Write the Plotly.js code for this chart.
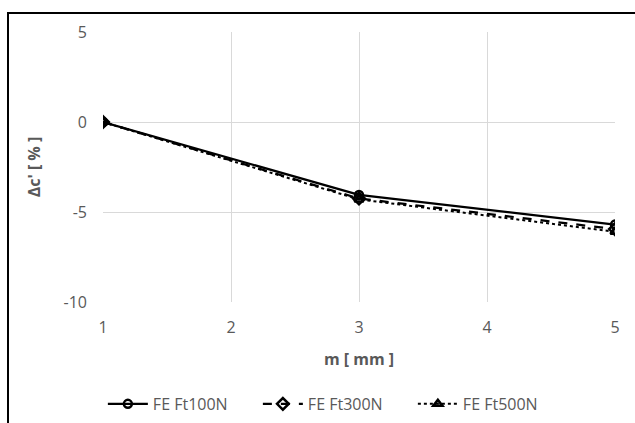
<!DOCTYPE html>
<html><head><meta charset="utf-8">
<script src="https://cdn.plot.ly/plotly-3.0.1.min.js"></script>
<style>
html,body{margin:0;padding:0;background:#fff;}
#wrap{position:relative;width:635px;height:423px;overflow:hidden;}
#chart{position:absolute;left:0;top:0;width:635px;height:423px;}
#frame{position:absolute;left:7px;top:12px;width:700px;height:500px;border-left:2px solid #000;border-top:2px solid #000;pointer-events:none;}
</style></head>
<body>
<div id="wrap"><div id="chart"></div><div id="frame"></div></div>
<script>
const m = [1, 3, 5];
const ft100 = [0, -4.05, -5.7];
const ft300 = [0, -4.25, -5.95];
const ft500 = [0, -4.3, -6.1];
const seriesNames = ["FE Ft100N", "FE Ft300N", "FE Ft500N"];
const xTicks = [1, 2, 3, 4, 5];
const yTicks = [5, 0, -5, -10];

const font = "Open Sans, Noto Sans, sans-serif";
const traces = [
  {x: m, y: ft100, name: seriesNames[0], mode: "lines+markers",
   line: {color: "#000", width: 2.25, dash: "solid"},
   marker: {symbol: "circle-open", size: 8, color: "#000", line: {width: 2.5, color: "#000"}}},
  {x: m, y: ft300, name: seriesNames[1], mode: "lines+markers",
   line: {color: "#000", width: 2.25, dash: "dash"},
   marker: {symbol: "diamond-open", size: 9, color: "#000", line: {width: 2.5, color: "#000"}}},
  {x: m, y: ft500, name: seriesNames[2], mode: "lines+markers",
   line: {color: "#000", width: 2, dash: "dot"},
   marker: {symbol: "triangle-up-open", size: 8, color: "#000", line: {width: 2.5, color: "#000"}}}
];
const layout = {
  width: 635, height: 423,
  margin: {l: 103, r: 20, t: 32, b: 121},
  paper_bgcolor: "#fff", plot_bgcolor: "#fff",
  font: {family: font, color: "#595959", size: 15},
  showlegend: true,
  legend: {orientation: "h", x: 0.162, xanchor: "left", xref: "container",
           y: 0.045, yanchor: "middle", yref: "container",
           entrywidth: 100, entrywidthmode: "pixels",
           font: {size: 16, color: "#595959"}, itemwidth: 40, tracegroupgap: 0},
  xaxis: {range: [1, 5], tickvals: xTicks, ticktext: xTicks.map(String), automargin: false,
          showgrid: true, gridcolor: "#d9d9d9", gridwidth: 1, zeroline: false,
          showline: false, ticks: "", ticklabelstandoff: 14, tickfont: {size: 16, color: "#595959"},
          title: {text: "<b>m [ mm ]</b>", font: {size: 16, color: "#595959"}, standoff: 16}},
  yaxis: {range: [-10, 5], tickvals: yTicks, ticktext: yTicks.map(String), automargin: false,
          showgrid: true, gridcolor: "#d9d9d9", gridwidth: 1, zeroline: false,
          showline: false, ticks: "", ticklabelstandoff: 15, tickfont: {size: 16, color: "#595959"},
          title: {text: "<b>Δc' [ % ]</b>", font: {size: 16, color: "#595959"}, standoff: 18}}
};
Plotly.newPlot("chart", traces, layout, {staticPlot: true, displayModeBar: false});
</script>
</body></html>
